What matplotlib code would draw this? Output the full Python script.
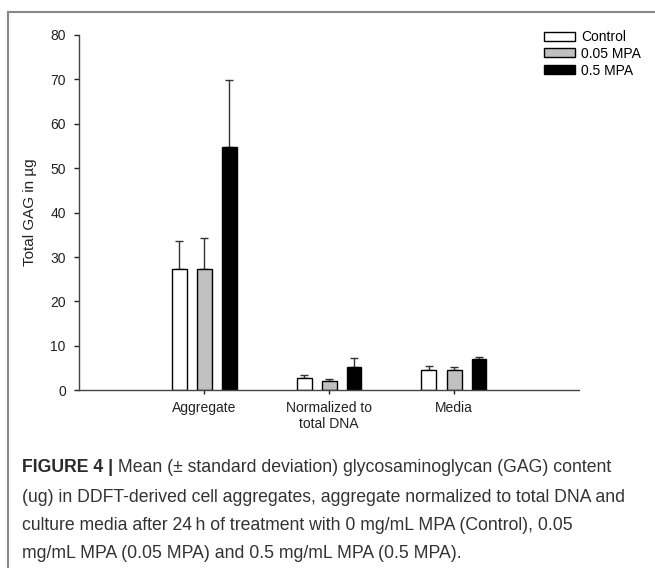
import numpy as np
import matplotlib
matplotlib.use("Agg")
import matplotlib.pyplot as plt
from matplotlib.lines import Line2D

plt.rcParams['font.family'] = ['Liberation Sans', 'DejaVu Sans']

categories = ["Aggregate", "Normalized to\ntotal DNA", "Media"]
groups = ["Control", "0.05 MPA", "0.5 MPA"]
means = {
    "Control": [27.3, 2.8, 4.5],
    "0.05 MPA": [27.3, 2.2, 4.6],
    "0.5 MPA": [54.7, 5.3, 7.0],
}
sds = {
    "Control": [6.3, 0.7, 1.0],
    "0.05 MPA": [7.1, 0.3, 0.7],
    "0.5 MPA": [15.2, 2.0, 0.6],
}
colors = {"Control": "white", "0.05 MPA": "#c0c0c0", "0.5 MPA": "black"}
caption_bold = "FIGURE 4 |"
caption_lines = [
    " Mean (\u00b1 standard deviation) glycosaminoglycan (GAG) content",
    "(ug) in DDFT-derived cell aggregates, aggregate normalized to total DNA and",
    "culture media after 24\u2009h of treatment with 0 mg/mL MPA (Control), 0.05",
    "mg/mL MPA (0.05 MPA) and 0.5 mg/mL MPA (0.5 MPA).",
]

W, H = 655, 568
fig = plt.figure(figsize=(W / 100, H / 100), dpi=100)
ax = fig.add_axes([79 / W, 1 - 390.3 / H, 500 / W, (390.3 - 35) / H])

x = np.arange(1, len(categories) + 1)
width = 0.12
step = 0.2
for i, g in enumerate(groups):
    xs = x + (i - 1) * step
    ax.bar(xs, means[g], width=width, color=colors[g], edgecolor="black",
           linewidth=1.0, label=g, zorder=2)
    ax.errorbar(xs, means[g], yerr=[np.zeros(len(xs)), sds[g]], fmt="none",
                ecolor="#333333", elinewidth=1.0, capsize=3.2, capthick=1.0,
                zorder=1)

ax.set_xlim(0, 4)
ax.set_ylim(0, 80)
ax.set_yticks(np.arange(0, 81, 10))
ax.set_xticks(x)
ax.set_xticklabels(categories, linespacing=1.1)
for s in ["top", "right"]:
    ax.spines[s].set_visible(False)
for s in ["left", "bottom"]:
    ax.spines[s].set_color("#444444")
    ax.spines[s].set_linewidth(1.0)
ax.tick_params(axis="y", direction="out", length=3.5, width=1, pad=6,
               labelsize=10, colors="#222222")
ax.tick_params(axis="x", direction="out", length=3, width=1, pad=5,
               labelsize=10, colors="#222222")
ax.set_ylabel("Total GAG in \u00b5g", fontsize=11, color="#222222")
ax.yaxis.set_label_coords(-0.084, 0.5)

ax.legend(loc="upper left", bbox_to_anchor=(544 / W, 1 - 30 / H),
          bbox_transform=fig.transFigure, frameon=False, fontsize=10,
          handlelength=2.2, handleheight=0.62, labelspacing=0.2,
          handletextpad=0.45, borderpad=0, borderaxespad=0)

# outer frame
fig.add_artist(Line2D([8 / W, 8 / W], [0, 1 - 12 / H], color="#888888",
                      lw=1.5, transform=fig.transFigure))
fig.add_artist(Line2D([8 / W, 1], [1 - 12 / H, 1 - 12 / H], color="#888888",
                      lw=1.5, transform=fig.transFigure))

# caption
cap_fs = 12.7
ys = [468, 497, 525, 553]
tb = fig.text(22 / W, 1 - ys[0] / H, caption_bold, fontsize=cap_fs,
              fontweight="bold", color="#2a2a2a", va="center")
fig.canvas.draw()
bb = tb.get_window_extent()
fig.text(bb.x1 / W, 1 - ys[0] / H, caption_lines[0], fontsize=cap_fs,
         color="#333333", va="center")
for line, y in zip(caption_lines[1:], ys[1:]):
    fig.text(22 / W, 1 - y / H, line, fontsize=cap_fs, color="#333333",
             va="center")

fig.savefig("out.png", dpi=100)
